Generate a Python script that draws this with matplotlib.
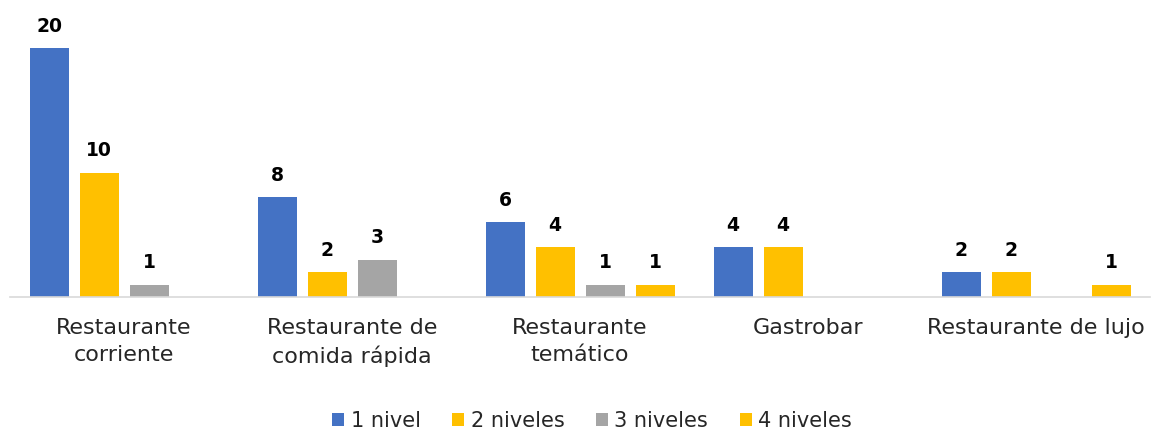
import numpy as np
import matplotlib.pyplot as plt

# categories and series
categories = ['Restaurante\ncorriente', 'Restaurante de\ncomida rápida',
              'Restaurante\ntemático', 'Gastrobar', 'Restaurante de lujo']
series = ['1 nivel', '2 niveles', '3 niveles', '4 niveles']
nivel_1 = [20, 8, 6, 4, 2]
nivel_2 = [10, 2, 4, 4, 2]
nivel_3 = [1, 3, 1, 0, 0]
nivel_4 = [0, 0, 1, 0, 1]
colors = ['#4472C4', '#FFC000', '#A5A5A5', '#FFC000']


def main():
  plt.rcParams['font.family'] = ['DejaVu Sans']
  fig = plt.figure(figsize=(11.53, 4.33), dpi=100)
  ax = fig.add_axes([10/1153, 1-297/433, 1140/1153, 277/433])

  x = np.arange(len(categories))
  width = 39/228
  stride = 50/228
  data = [nivel_1, nivel_2, nivel_3, nivel_4]

  for i, (vals, name) in enumerate(zip(data, series)):
    pos = x + (i - 1.5)*stride
    bars = ax.bar(pos, vals, width, color=colors[i], label=name, zorder=2)
    for b, v in zip(bars, vals):
      if v > 0:
        ax.annotate(str(v), (b.get_x() + b.get_width()/2, v), xytext=(0, 9),
                    textcoords='offset points', ha='center', va='bottom',
                    fontsize=13.5, fontweight='bold', color='black')

  ax.set_xlim(-0.5, len(categories) - 0.5)
  ax.set_ylim(0, 277/12.45)
  ax.set_yticks([])
  ax.set_xticks(x)
  ax.set_xticklabels(categories, fontsize=16, color='#262626', linespacing=1.45)
  ax.tick_params(axis='x', length=0, pad=15)

  for s in ['top', 'right', 'left']:
    ax.spines[s].set_visible(False)
  ax.spines['bottom'].set_color('#D9D9D9')
  ax.spines['bottom'].set_linewidth(1.2)

  fig.legend(loc='center', bbox_to_anchor=(592/1153, 1-421/433), ncol=4, frameon=False,
             fontsize=15, handlelength=0.6, handleheight=0.6, handletextpad=0.3,
             columnspacing=1.5, labelcolor='#262626')

  fig.savefig('out.png', dpi=100)


if __name__ == "__main__":
  main()
